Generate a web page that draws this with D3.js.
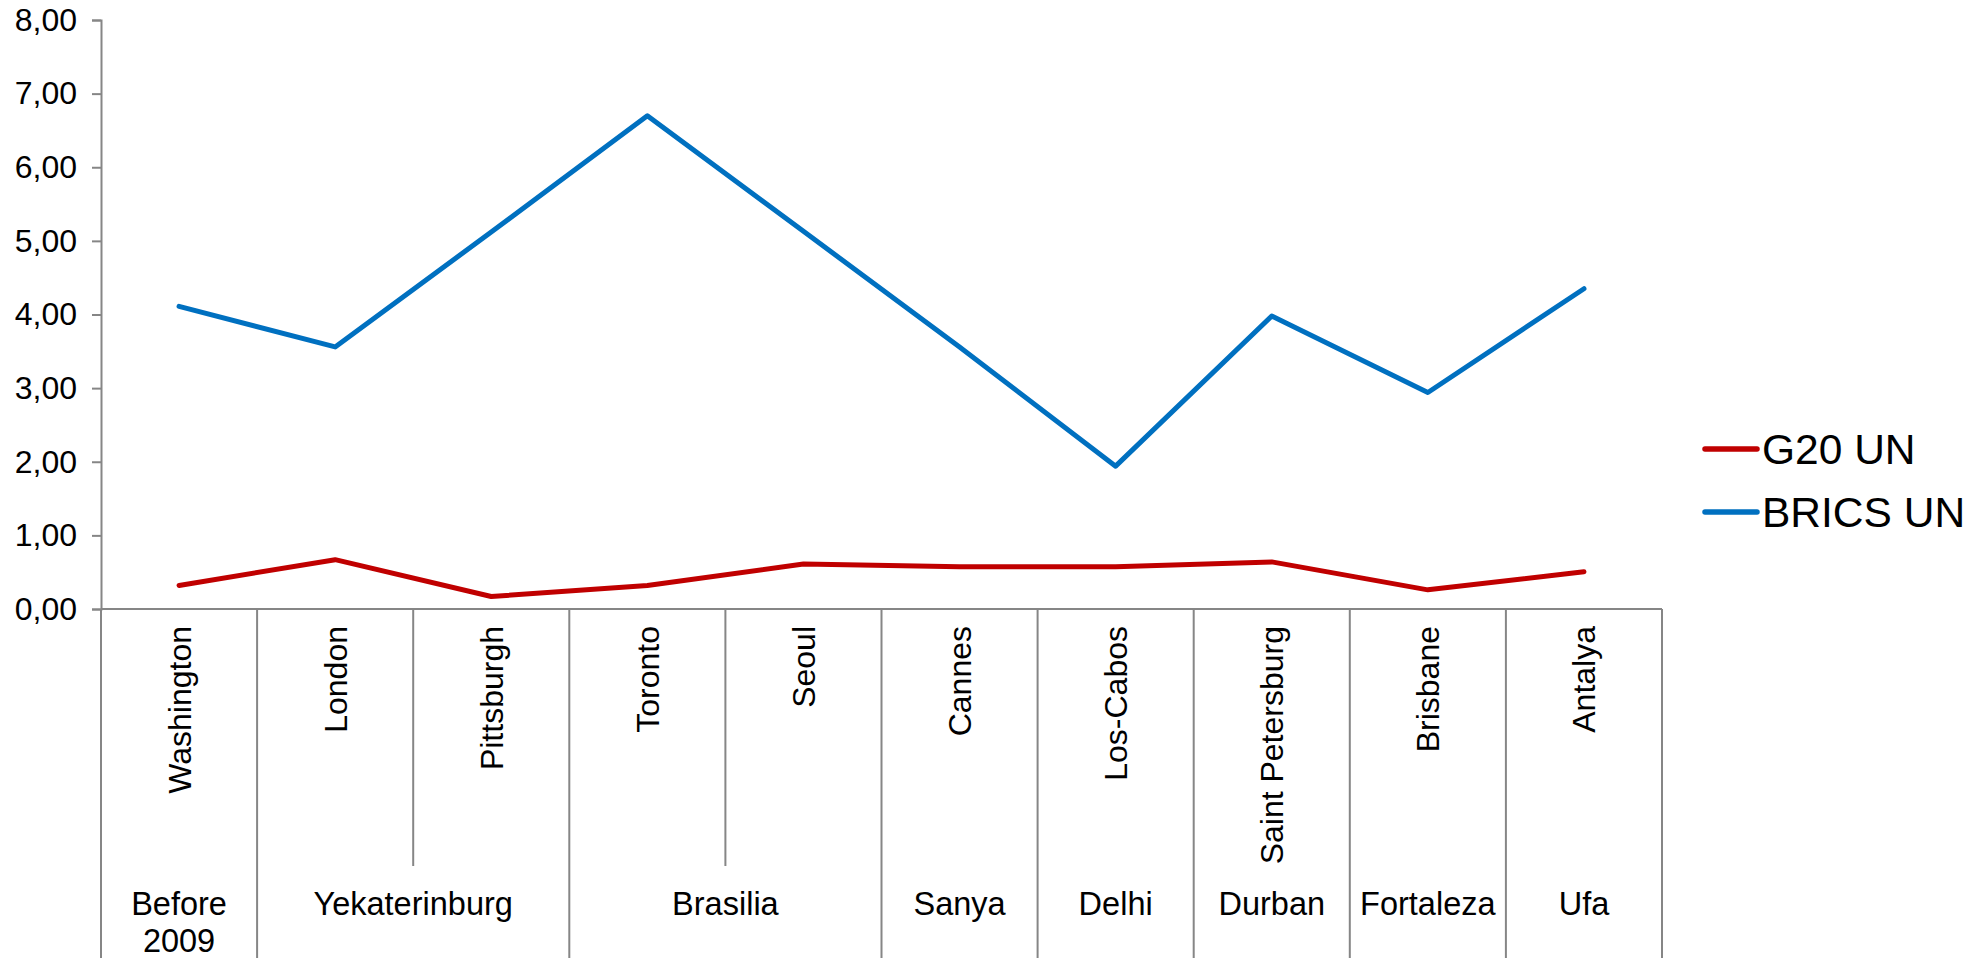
<!DOCTYPE html>
<html><head><meta charset="utf-8">
<script src="https://cdn.jsdelivr.net/npm/d3@7"></script>
<style>body{margin:0;background:#fff;} text{font-family:"Liberation Sans",Arial,sans-serif;fill:#000;}</style>
</head><body>
<svg id="c" width="1985" height="958"></svg>
<script>
const cities = ["Washington","London","Pittsburgh","Toronto","Seoul","Cannes","Los-Cabos","Saint Petersburg","Brisbane","Antalya"];
const groups = ["Before 2009","Yekaterinburg","Yekaterinburg","Brasilia","Brasilia","Sanya","Delhi","Durban","Fortaleza","Ufa"];
const g20 = [0.32,0.67,0.17,0.32,0.61,0.575,0.575,0.64,0.26,0.505];
const brics = [4.11,3.56,5.12,6.70,5.13,3.56,1.94,3.98,2.94,4.35];
const yTicks = [0,1,2,3,4,5,6,7,8];
const seriesNames = ["G20 UN","BRICS UN"];
const seriesColors = ["#C00000","#0070C0"];

const svg = d3.select("#c");
const L=101, R=1662, T=20, B=609, BOT=958, INNER=866;
const x = d3.scaleBand().domain(d3.range(cities.length)).range([L,R]).padding(0);
const y = d3.scaleLinear().domain([0,8]).range([B,T]);
const axisCol = "#868686";
const fmt = v => d3.format(".2f")(v).replace(".",",");

// Y axis
const ya = svg.append("g").attr("transform",`translate(${L},0)`)
  .call(d3.axisLeft(y).tickValues(yTicks).tickFormat(fmt).tickSize(9).tickPadding(15));
ya.select(".domain").attr("stroke",axisCol).attr("stroke-width",2);
ya.selectAll(".tick line").attr("stroke",axisCol).attr("stroke-width",2);
ya.selectAll(".tick text").style("font-size","32px").attr("fill","#000");

// X axis line
svg.append("line").attr("x1",L).attr("x2",R).attr("y1",B).attr("y2",B).attr("stroke",axisCol).attr("stroke-width",2);

// Group boundaries
const n = cities.length;
for(let i=0;i<=n;i++){
  const xb = i<n ? x(i) : R;
  const full = (i===0 || i===n || groups[i]!==groups[i-1]);
  svg.append("line").attr("x1",xb).attr("x2",xb).attr("y1",B).attr("y2",full?BOT:INNER)
    .attr("stroke",axisCol).attr("stroke-width",2);
}

// City labels rotated
cities.forEach((c,i)=>{
  const cx = x(i)+x.bandwidth()/2;
  svg.append("text").attr("transform",`translate(${cx},626) rotate(-90)`)
    .attr("text-anchor","end").attr("dy","0.36em").style("font-size","32px").text(c);
});

// Group labels
const grpList = [];
groups.forEach((g,i)=>{ if(i===0||groups[i-1]!==g) grpList.push({name:g,start:i,end:i}); else grpList[grpList.length-1].end=i; });
grpList.forEach(gr=>{
  const cx = (x(gr.start) + x(gr.end)+x.bandwidth())/2;
  const words = gr.name==="Before 2009" ? ["Before","2009"] : [gr.name];
  words.forEach((w,k)=>{
    svg.append("text").attr("x",cx).attr("y",915+k*37).attr("text-anchor","middle").style("font-size","32.5px").text(w);
  });
});

// Lines
const line = d3.line().x((d,i)=>x(i)+x.bandwidth()/2).y(d=>y(d));
[g20,brics].forEach((s,k)=>{
  svg.append("path").datum(s).attr("d",line).attr("fill","none").attr("stroke",seriesColors[k])
    .attr("stroke-width",5).attr("stroke-linejoin","round").attr("stroke-linecap","round");
});

// Legend
seriesNames.forEach((nm,k)=>{
  const ly = 449 + k*63;
  svg.append("line").attr("x1",1705).attr("x2",1757).attr("y1",ly).attr("y2",ly)
    .attr("stroke",seriesColors[k]).attr("stroke-width",5.5).attr("stroke-linecap","round");
  svg.append("text").attr("x",1762).attr("y",ly).attr("dy","0.36em").style("font-size","42.5px").text(nm);
});
</script>
</body></html>
